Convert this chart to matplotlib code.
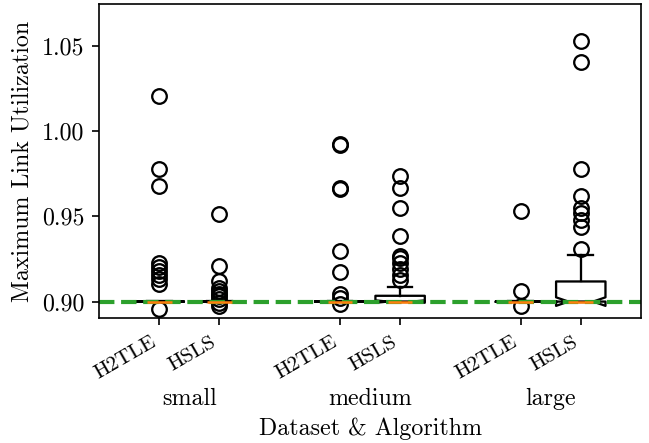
import matplotlib
matplotlib.use('Agg')
import matplotlib.pyplot as plt
import matplotlib.transforms as mtransforms

plt.rcParams.update({
    'font.family': 'serif',
    'font.serif': ['cmr10'],
    'mathtext.fontset': 'cm',
    'axes.formatter.use_mathtext': True,
    'axes.unicode_minus': False,
    'font.size': 11.5,
})

datasets = ['small', 'medium', 'large']
algorithms = ['H2TLE', 'HSLS']
positions = [1, 2, 4, 5, 7, 8]
tick_labels = ['H2TLE', 'HSLS', 'H2TLE', 'HSLS', 'H2TLE', 'HSLS']

medians = [0.9000, 0.9000, 0.9000, 0.9000, 0.9000, 0.9000]
q1 = [0.8999, 0.8999, 0.8999, 0.9000, 0.8999, 0.9000]
q3 = [0.9002, 0.9002, 0.9002, 0.9034, 0.9002, 0.9118]
whislo = [0.8999, 0.8999, 0.8999, 0.9000, 0.8999, 0.9000]
whishi = [0.9002, 0.9002, 0.9002, 0.9088, 0.9002, 0.9275]
cilo = [0.89995, 0.89995, 0.89995, 0.8993, 0.89995, 0.8975]
cihi = [0.90005, 0.90005, 0.90005, 0.9007, 0.90005, 0.9025]

fliers_small_h2tle = [1.0206, 0.9775, 0.9680, 0.9228, 0.9205, 0.9180, 0.9155, 0.9130, 0.9105, 0.8957]
fliers_small_hsls = [0.9514, 0.9210, 0.9118, 0.9080, 0.9060, 0.9045, 0.9030, 0.9015, 0.8990, 0.8975]
fliers_medium_h2tle = [0.9925, 0.9920, 0.9665, 0.9660, 0.9294, 0.9176, 0.9045, 0.9020, 0.8985]
fliers_medium_hsls = [0.9735, 0.9667, 0.9550, 0.9382, 0.9265, 0.9255, 0.9228, 0.9190, 0.9157, 0.9128]
fliers_large_h2tle = [0.9530, 0.9065, 0.8975]
fliers_large_hsls = [1.0529, 1.0406, 0.9775, 0.9618, 0.9550, 0.9520, 0.9480, 0.9438, 0.9308]

fliers = [fliers_small_h2tle, fliers_small_hsls, fliers_medium_h2tle,
          fliers_medium_hsls, fliers_large_h2tle, fliers_large_hsls]

reference_value = 0.9

stats = []
for i in range(len(positions)):
    stats.append(dict(med=medians[i], q1=q1[i], q3=q3[i], whislo=whislo[i],
                      whishi=whishi[i], cilo=cilo[i], cihi=cihi[i],
                      fliers=fliers[i]))

fig = plt.figure(figsize=(649 / 150, 443 / 150), dpi=150)
ax = fig.add_axes([99 / 649, 1 - 318.3 / 443, (641 - 99) / 649, (318.3 - 4) / 443])

ax.bxp(stats, positions=positions, widths=0.82, shownotches=True,
       boxprops=dict(linewidth=1.1), whiskerprops=dict(linewidth=1.1),
       capprops=dict(linewidth=1.1),
       flierprops=dict(marker='o', markerfacecolor='none', markeredgecolor='k',
                       markersize=7, markeredgewidth=1.1),
       medianprops=dict(color='C1', linewidth=1.2, zorder=3))
ax.axhline(reference_value, color='C2', ls='--', lw=2, zorder=2.5)

ax.set_xlim(0, 9)
ax.set_ylim(0.8902, 1.0745)
ax.set_yticks([0.90, 0.95, 1.00, 1.05])
ax.set_yticklabels(['0.90', '0.95', '1.00', '1.05'])
ax.set_xticks(positions)
ax.set_xticklabels(tick_labels, rotation=30, ha='right', fontsize=10)
ax.set_ylabel('Maximum Link Utilization')

trans = mtransforms.blended_transform_factory(ax.transData, ax.transAxes)
for k, name in enumerate(datasets):
    center = (positions[2 * k] + positions[2 * k + 1]) / 2
    ax.text(center, -0.255, name, transform=trans, ha='center', va='center')
ax.set_xlabel('Dataset & Algorithm')
ax.xaxis.set_label_coords(0.5, -0.315)

fig.savefig('out.png', dpi=150)
